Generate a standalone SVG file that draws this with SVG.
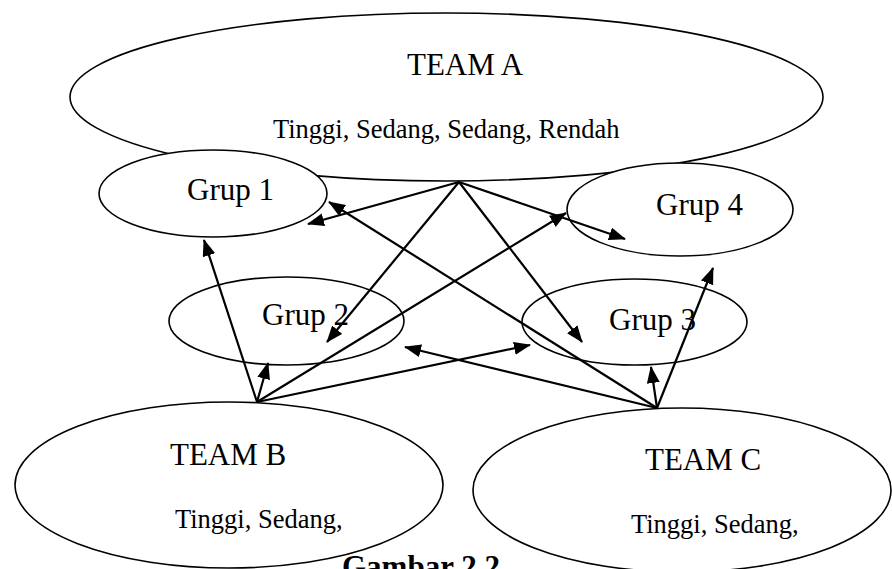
<svg xmlns="http://www.w3.org/2000/svg" width="892" height="569" viewBox="0 0 892 569">
<style>
.node ellipse{fill:#fff;stroke:#000;stroke-width:1.6}
text{font-family:"Liberation Serif","Times New Roman",serif;fill:#000}
.big{font-size:31px}
.small{font-size:26.5px}
.cap{font-size:31px;font-weight:bold}
#connectors line{stroke:#000;stroke-width:2.2;marker-end:url(#arr)}
</style>
<defs>
<marker id="arr" markerUnits="userSpaceOnUse" markerWidth="18" markerHeight="14" refX="16" refY="6.5" orient="auto">
<path d="M0,0 L17,6.5 L0,13 Z" fill="#000"/>
</marker>
</defs>
<rect width="892" height="569" fill="#fff"/>
<g id="teamA" class="node">
<ellipse cx="446.5" cy="97" rx="376.5" ry="84"/>
<text class="big" x="407" y="75">TEAM A</text>
<text class="small" x="273" y="138">Tinggi, Sedang, Sedang, Rendah</text>
</g>
<g id="grup1" class="node">
<ellipse cx="213" cy="193.5" rx="114" ry="43.5"/>
<text class="big" x="187" y="200">Grup 1</text>
</g>
<g id="grup4" class="node">
<ellipse cx="680" cy="209.5" rx="113" ry="46.5"/>
<text class="big" x="656" y="215">Grup 4</text>
</g>
<g id="grup2" class="node">
<ellipse cx="286.5" cy="321" rx="117.5" ry="44"/>
<text class="big" x="262" y="325">Grup 2</text>
</g>
<g id="grup3" class="node">
<ellipse cx="634.5" cy="322" rx="112.5" ry="43"/>
<text class="big" x="609" y="330">Grup 3</text>
</g>
<g id="teamB" class="node">
<ellipse cx="229" cy="485" rx="214" ry="83"/>
<text class="big" x="170" y="465">TEAM B</text>
<text class="small" x="175" y="528">Tinggi, Sedang,</text>
</g>
<g id="teamC" class="node">
<ellipse cx="682" cy="490" rx="209" ry="82"/>
<text class="big" x="645" y="470">TEAM C</text>
<text class="small" x="631" y="533">Tinggi, Sedang,</text>
</g>
<g id="connectors">
<line x1="459" y1="182" x2="308" y2="224"/>
<line x1="459" y1="182" x2="327" y2="342"/>
<line x1="459" y1="182" x2="582" y2="342"/>
<line x1="459" y1="182" x2="625" y2="239"/>
<line x1="257" y1="402" x2="204" y2="240"/>
<line x1="257" y1="402" x2="268" y2="363"/>
<line x1="257" y1="402" x2="566" y2="213"/>
<line x1="257" y1="402" x2="530" y2="345"/>
<line x1="657" y1="408" x2="329" y2="202"/>
<line x1="657" y1="408" x2="405" y2="347"/>
<line x1="657" y1="408" x2="651" y2="367"/>
<line x1="657" y1="408" x2="713" y2="268"/>
</g>
<text class="cap" x="342" y="577">Gambar 2.2</text>
</svg>
